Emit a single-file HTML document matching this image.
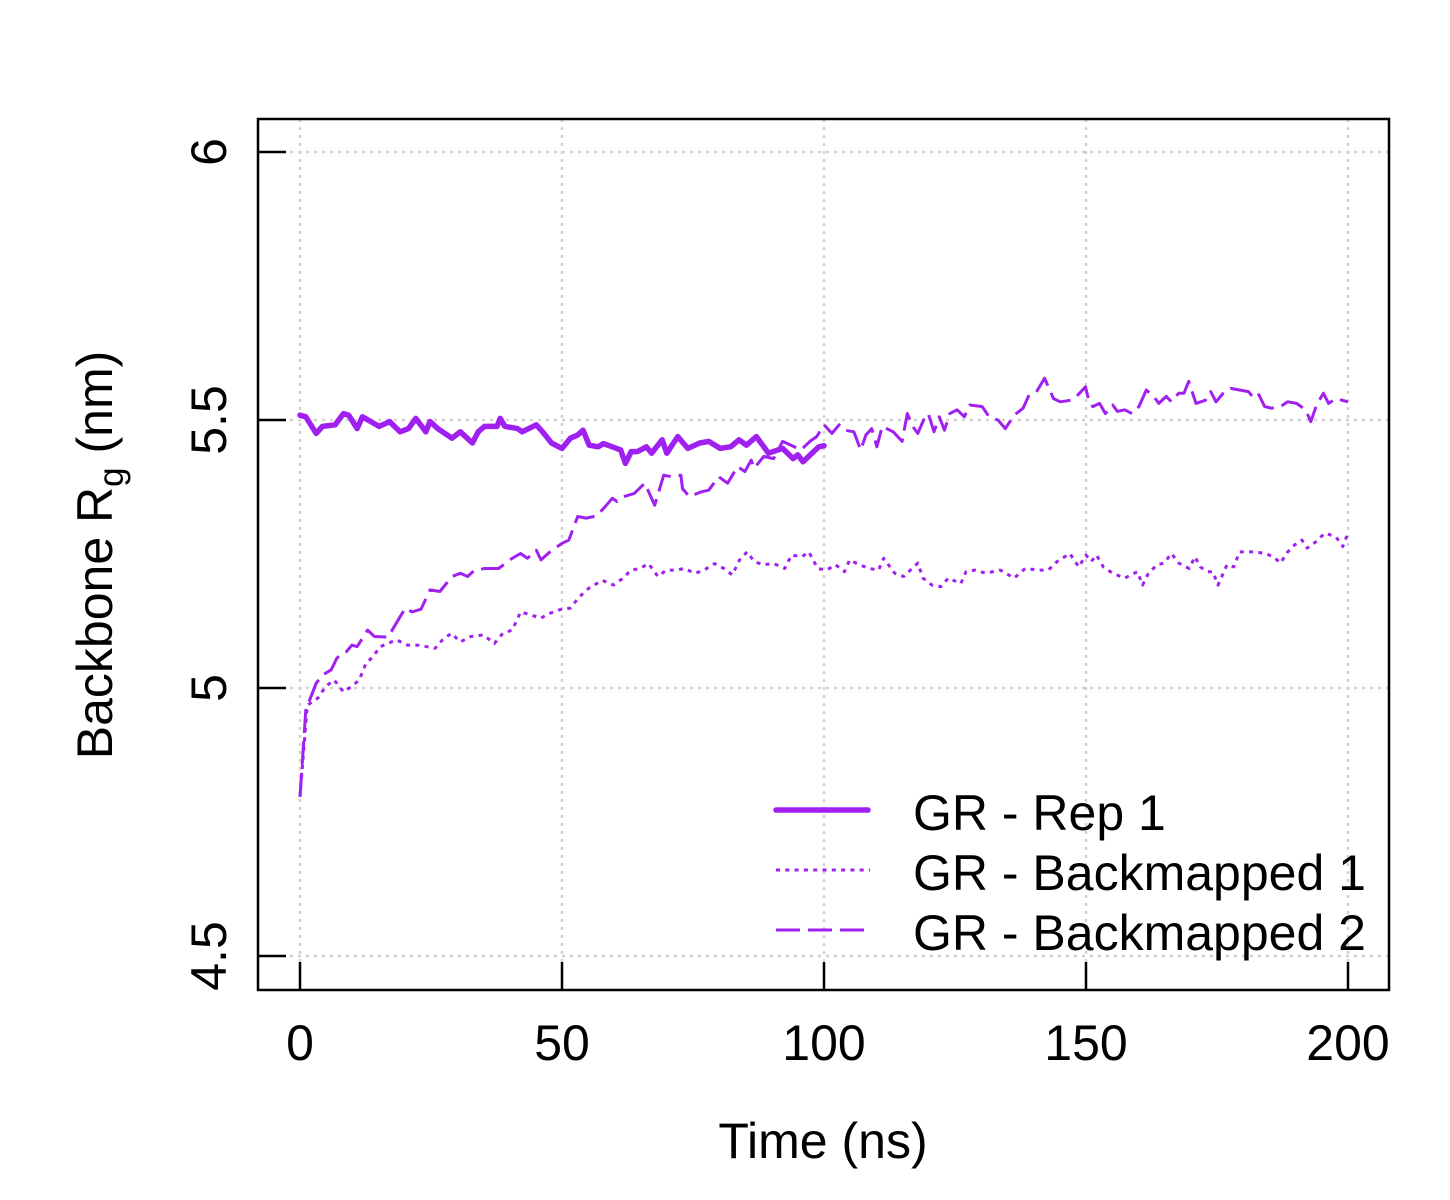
<!DOCTYPE html>
<html><head><meta charset="utf-8"><style>
html,body{margin:0;padding:0;background:#fff;}
svg{display:block;font-family:"Liberation Sans",Arial,sans-serif;}
</style></head><body>
<svg id="chart" width="1450" height="1200" viewBox="0 0 1450 1200" xmlns="http://www.w3.org/2000/svg">
<g id="grid"></g>
<g id="series"></g>
<rect x="258" y="119" width="1131" height="871" fill="none" stroke="#000" stroke-width="2.5"/>
<g id="axes"></g>
<text x="823" y="1158" font-size="50" text-anchor="middle">Time (ns)</text>
<text transform="translate(112,555) rotate(-90)" font-size="50" text-anchor="middle">Backbone R<tspan font-size="35" dy="11">g</tspan><tspan dy="-11"> (nm)</tspan></text>
<g>
<line x1="776" y1="810" x2="868" y2="810" stroke="#a020f0" stroke-width="5.5" stroke-linecap="round"/>
<text x="913" y="830" font-size="50">GR - Rep 1</text>
<line x1="776" y1="870" x2="870" y2="870" stroke="#a020f0" stroke-width="3" stroke-dasharray="4 5.3"/>
<text x="913" y="890" font-size="50">GR - Backmapped 1</text>
<line x1="776" y1="930" x2="864" y2="930" stroke="#a020f0" stroke-width="3" stroke-dasharray="24 8"/>
<text x="913" y="950" font-size="50">GR - Backmapped 2</text>
</g>
</svg>
<script>
const xTicks = [0, 50, 100, 150, 200];
const yTicks = [4.5, 5, 5.5, 6];
const yTickLabels = ["4.5", "5", "5.5", "6"];
const rep1X = [0,1.1,3.1,4.3,6.7,8.3,9.3,10.9,11.9,15.1,17.1,19.1,20.7,22.1,24.0,24.8,26.3,29.0,30.6,32.9,34.0,35.2,37.6,38.2,39.1,41.5,42.4,45.1,46.3,48.0,50.0,51.6,53.0,54.0,55.2,56.9,57.9,59.6,61.2,62.1,63.2,64.4,66.1,67.1,69.1,70.0,72.1,74.0,76.3,78.0,80.2,82.2,83.8,85.2,87.1,89.4,92.1,94.1,95.0,96.0,99.0,100];
const rep1Y = [5.509,5.506,5.475,5.488,5.491,5.512,5.509,5.484,5.506,5.488,5.497,5.478,5.484,5.503,5.478,5.497,5.484,5.466,5.478,5.457,5.478,5.488,5.488,5.503,5.488,5.484,5.478,5.491,5.478,5.457,5.447,5.466,5.472,5.481,5.453,5.450,5.456,5.450,5.444,5.419,5.441,5.441,5.450,5.438,5.463,5.438,5.469,5.447,5.457,5.460,5.447,5.450,5.463,5.453,5.469,5.438,5.447,5.428,5.435,5.422,5.450,5.452];
const bm1X = [0,1.4,3.4,4.9,6.5,8.3,9.9,11.3,12.6,13.9,15.3,18.4,20.5,22.4,24.2,25.8,27.2,28.9,30.6,32.6,35.0,37.1,38.7,40.5,42.1,44.2,45.9,47.6,49.6,51.6,53.3,55.1,57.7,59.8,61.5,63.2,64.9,66.5,68.3,69.9,71.7,73.3,75.4,77.1,79.1,80.9,82.5,83.9,85.3,86.7,88.3,90.4,92.5,93.8,95.8,97.1,98.8,100.5,102.2,103.9,104.9,106.7,108.7,110.4,111.4,113.5,115.2,117.9,118.9,120.6,122.3,123.7,126.1,127.1,128.8,130.9,133.6,136.3,138.4,141.1,142.8,144.5,146.9,148.6,150.0,151.0,152.0,153.3,155.1,157.4,159.8,160.8,161.9,163.6,164.9,166.3,167.7,169.7,170.8,171.8,173.2,174.2,175.2,176.9,178.2,179.3,182.0,184.4,186.1,187.1,188.5,189.8,191.2,192.2,193.9,195.6,197.7,199.0,200];
const bm1Y = [4.797,4.968,4.981,5.003,5.015,4.993,5.003,5.015,5.046,5.058,5.077,5.090,5.080,5.080,5.077,5.074,5.090,5.102,5.086,5.096,5.099,5.083,5.102,5.108,5.142,5.136,5.130,5.139,5.146,5.149,5.170,5.186,5.201,5.192,5.204,5.220,5.223,5.232,5.208,5.220,5.220,5.223,5.214,5.220,5.232,5.223,5.211,5.239,5.254,5.236,5.230,5.232,5.223,5.248,5.245,5.254,5.223,5.220,5.230,5.217,5.239,5.230,5.223,5.220,5.242,5.214,5.208,5.233,5.205,5.192,5.189,5.205,5.195,5.217,5.220,5.214,5.220,5.205,5.223,5.220,5.220,5.236,5.251,5.226,5.248,5.236,5.248,5.226,5.214,5.205,5.217,5.192,5.214,5.230,5.233,5.251,5.233,5.223,5.245,5.226,5.217,5.217,5.192,5.230,5.226,5.254,5.254,5.251,5.242,5.233,5.254,5.267,5.276,5.261,5.273,5.289,5.282,5.264,5.289];
const bm2X = [0,1.1,3.1,4.3,5.95,7.0,7.9,8.9,9.9,10.9,12.9,14.2,16.8,20.1,21.4,23.1,24.8,26.7,29.0,30.6,32.0,33.2,35.2,37.9,40.5,42.1,43.4,45.1,46.0,47.7,50.0,51.3,53.0,54.6,56.6,58.2,59.6,60.5,61.8,63.8,65.8,67.7,69.4,71.0,72.7,73.0,74.3,76.6,78.0,79.9,81.6,83.5,84.9,86.1,86.7,88.5,90.4,92.1,93.7,95.6,97.3,98.6,100.0,101.5,102.9,104.0,105.7,107.0,108.0,109.1,110.1,111.1,113.2,114.9,115.9,116.9,117.9,119.0,119.9,121.0,122.0,123.0,124.0,125.4,126.8,127.8,130.2,131.5,133.2,134.6,136.3,138.0,139.0,140.4,142.1,142.8,143.8,145.1,147.2,148.5,149.9,150.6,151.3,152.6,153.7,155.1,156.0,157.4,158.8,160.1,161.5,162.9,163.9,165.3,166.3,167.7,168.7,169.6,171.0,172.8,173.8,174.8,176.2,177.6,179.3,181.0,182.1,183.0,184.1,185.4,187.1,188.5,190.2,191.9,192.9,194.0,195.3,196.3,197.7,200];
const bm2Y = [4.797,4.959,5.009,5.024,5.034,5.055,5.065,5.068,5.080,5.077,5.108,5.096,5.095,5.149,5.142,5.147,5.183,5.180,5.208,5.214,5.208,5.219,5.223,5.223,5.242,5.251,5.242,5.257,5.239,5.254,5.270,5.276,5.320,5.317,5.321,5.338,5.354,5.348,5.357,5.363,5.382,5.341,5.397,5.394,5.397,5.372,5.357,5.366,5.369,5.394,5.382,5.413,5.404,5.425,5.410,5.432,5.428,5.460,5.453,5.444,5.460,5.469,5.491,5.475,5.491,5.481,5.478,5.444,5.472,5.484,5.450,5.488,5.478,5.460,5.512,5.488,5.475,5.500,5.512,5.478,5.506,5.481,5.512,5.519,5.506,5.528,5.525,5.506,5.500,5.484,5.509,5.522,5.544,5.550,5.578,5.562,5.540,5.534,5.537,5.547,5.562,5.534,5.525,5.531,5.512,5.528,5.516,5.519,5.512,5.525,5.556,5.544,5.531,5.544,5.534,5.550,5.550,5.572,5.531,5.537,5.553,5.534,5.550,5.559,5.556,5.553,5.540,5.547,5.525,5.522,5.525,5.534,5.531,5.519,5.497,5.528,5.550,5.531,5.540,5.534];

const NS = "http://www.w3.org/2000/svg";
function xScale(v){ return 300 + v * (1348 - 300) / 200; }
function yScale(v){ return 152 + (6 - v) * 536; }
function mk(tag, attrs, parent){
  const e = document.createElementNS(NS, tag);
  for (const k in attrs) e.setAttribute(k, attrs[k]);
  parent.appendChild(e);
  return e;
}
const grid = document.getElementById('grid');
const axes = document.getElementById('axes');
const series = document.getElementById('series');

xTicks.forEach(function(t){
  const g = mk('line', {x1: xScale(t), x2: xScale(t), y1: 119, y2: 990, stroke: '#d3d3d3', 'stroke-width': 2.5, 'stroke-dasharray': '3 5'}, grid);
  
  
  const tk = mk('line', {x1: xScale(t), x2: xScale(t), y1: 990, y2: 962, stroke: '#000', 'stroke-width': 2.5}, axes);
  
  
  const lb = mk('text', {x: xScale(t), y: 1060, 'font-size': 50, 'text-anchor': 'middle'}, axes);
  lb.textContent = String(t);
  
  
});
yTicks.forEach(function(t, i){
  const g = mk('line', {x1: 258, x2: 1389, y1: yScale(t), y2: yScale(t), stroke: '#d3d3d3', 'stroke-width': 2.5, 'stroke-dasharray': '3 5'}, grid);
  
  
  const tk = mk('line', {x1: 258, x2: 286, y1: yScale(t), y2: yScale(t), stroke: '#000', 'stroke-width': 2.5}, axes);
  
  
  const lb = mk('text', {transform: 'translate(226,' + yScale(t) + ') rotate(-90)', 'font-size': 50, 'text-anchor': 'middle'}, axes);
  lb.textContent = yTickLabels[i];
  
  
});
function pts(xs, ys){ return xs.map(function(x, i){ return xScale(x).toFixed(1) + ',' + yScale(ys[i]).toFixed(1); }).join(' '); }
const s2 = mk('polyline', {points: pts(bm2X, bm2Y), fill: 'none', stroke: '#a020f0', 'stroke-width': 3, 'stroke-dasharray': '24 8', 'stroke-linejoin': 'round'}, series);


const s1 = mk('polyline', {points: pts(bm1X, bm1Y), fill: 'none', stroke: '#a020f0', 'stroke-width': 3, 'stroke-dasharray': '4 5.3', 'stroke-linejoin': 'round'}, series);


const s0 = mk('polyline', {points: pts(rep1X, rep1Y), fill: 'none', stroke: '#a020f0', 'stroke-width': 5.5, 'stroke-linejoin': 'round', 'stroke-linecap': 'round'}, series);


</script>
</body></html>
